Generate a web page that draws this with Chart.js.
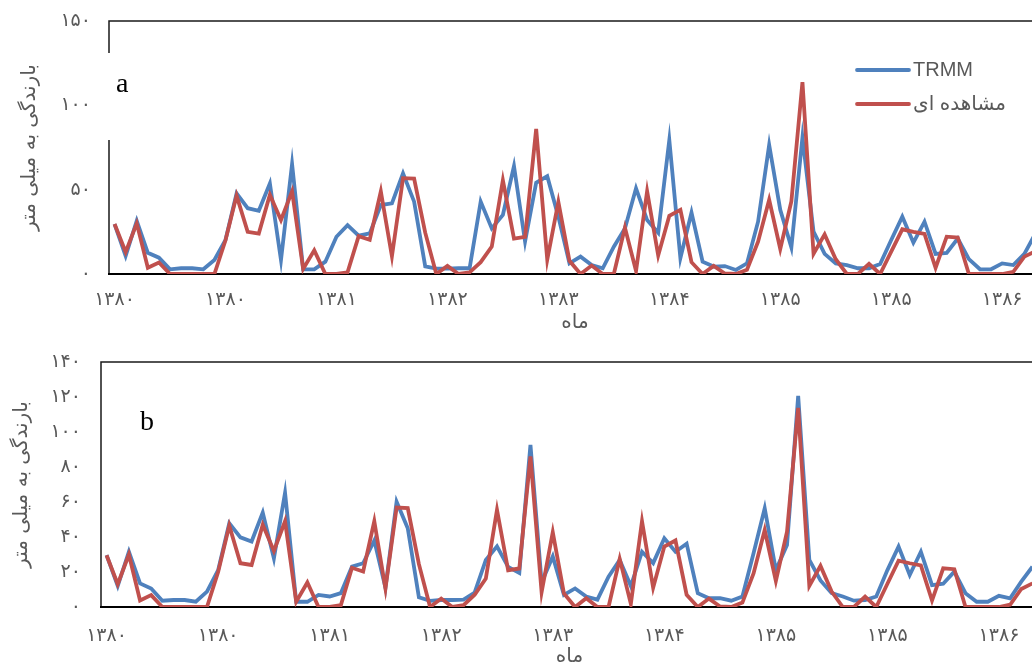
<!DOCTYPE html>
<html><head><meta charset="utf-8">
<script src="https://cdn.jsdelivr.net/npm/chart.js@4.4.1/dist/chart.umd.min.js"></script>
<style>
html,body{margin:0;padding:0;overflow:hidden;background:#fff;width:1032px;height:664px;}
#wa{position:absolute;left:0;top:0;width:1041px;height:340px;}
#wb{position:absolute;left:0;top:340px;width:1038px;height:340px;}
</style></head><body>
<div id="wa"><canvas id="ca" width="1041" height="340"></canvas></div>
<div id="wb"><canvas id="cb" width="1038" height="340"></canvas></div>
<script>
// ---- data ----
const years = ['۱۳۸۰','۱۳۸۱','۱۳۸۲','۱۳۸۳','۱۳۸۴','۱۳۸۵','۱۳۸۶'];
const monthsPerYear = 12;
const categories = [];
years.forEach(y => { for (let m = 0; m < monthsPerYear; m++) categories.push(y); });

const observed = [29.6,13,30,3.7,6.8,0,0,0,0,0,20,46.5,25,24,47,32,49,3,14,0,0,1,22.4,20.3,49,10.5,56.8,56.5,24.5,0,
  4.8,0,1,7,16.3,55.5,21,22,86,8.5,42.7,7.8,0,5,0,0,27.5,1.8,49,11,34.5,38,7,0,4.8,0.3,0,2.5,19.2,44,
  14.8,43,113.8,12,23.5,8.8,0,0,6,0,13.3,26.5,25,23.8,3.7,22.1,21.6,0,0,0,0,1.3,10.3,13.5];
const trmmA = [29.6,10.7,31.6,12.6,9.7,2.8,3.4,3.4,2.8,8.3,20.2,47.8,39,37.5,53.7,8.3,65.2,2.8,2.8,7.3,22.1,29,22.7,24.1,40.9,41.9,59.7,42.9,4.5,3.2,
  3.2,3.4,3.4,42.9,27,35,64,19.2,54.1,58,34,6.3,10.3,5.3,3.4,16.2,27,50.8,32,24.5,79.4,9.5,36.4,7.3,4.4,4.7,2.4,6.3,31,76.5,
  38,15.8,81,25.1,11.9,6.3,5.3,3.4,3.4,5.9,20.2,34,18.6,31,11.9,12.5,21,8.8,2.8,2.8,6.3,5.3,11.9,24];
const trmmB = [29.7,12,31.6,13.5,10.6,3.6,4,4,3,8.8,21.1,47.8,39.8,37.4,53.9,27.8,65.3,3,3,6.9,6,7.9,23.1,25,38,11,60.2,45,5.5,3.5,
  4,4,4.2,8.3,26.9,34.7,22.9,19.5,92.6,14,28.9,6.9,10.6,6,4.2,17.3,26.9,12,31.6,25.1,39.2,31.6,36.2,7.9,5,5,3.6,6,30.7,56.4,
  21.1,35.4,120.6,26.9,15.2,7.9,6,3.6,4,6,21.1,34.5,18.3,31.6,12.5,13.3,20.2,7.9,3,3,6.4,5,14.5,23];
const yTicksA = ['۰','۵۰','۱۰۰','۱۵۰'];
const yTicksB = ['۰','۲۰','۴۰','۶۰','۸۰','۱۰۰','۱۲۰','۱۴۰'];
const seriesNames = ['TRMM','مشاهده ای'];
const yTitle = 'بارندگی به میلی متر';
const xTitle = 'ماه';
const labelEvery = 10;

const BLUE = '#4F81BD', RED = '#C0504D', GRAY = '#595959';
const TICK_SPACING = '6px';

function framePlugin(gap) {
  return {
    id: 'frame',
    beforeDatasetsDraw(chart) {
      const {ctx, chartArea: a} = chart;
      ctx.save();
      ctx.strokeStyle = '#1a1a1a';
      ctx.lineWidth = 1.5;
      ctx.beginPath();
      ctx.moveTo(a.left, a.bottom); ctx.lineTo(a.left, a.top);
      ctx.lineTo(a.right, a.top); ctx.lineTo(a.right, a.bottom);
      ctx.stroke();
      ctx.strokeStyle = '#000';
      ctx.lineWidth = 2.2;
      ctx.beginPath();
      ctx.moveTo(a.left - 1, a.bottom); ctx.lineTo(a.right, a.bottom);
      ctx.stroke();
      if (gap) {
        ctx.fillStyle = '#fff';
        ctx.fillRect(a.left - 3, gap[0], 6, gap[1] - gap[0]);
      }
      ctx.restore();
    },
    afterDatasetsDraw(chart) {
      // tick labels are drawn after this (ticks.z = 1): widen their spacing
      chart.ctx.letterSpacing = TICK_SPACING;
    }
  };
}
function notePlugin(letter, lx, ly, legend) {
  return {
    id: 'note',
    afterDraw(chart) {
      const ctx = chart.ctx;
      ctx.letterSpacing = '0px';
      ctx.save();
      ctx.fillStyle = '#000';
      ctx.font = '28px "Liberation Serif"';
      ctx.textBaseline = 'alphabetic';
      ctx.textAlign = 'left';
      ctx.fillText(letter, lx, ly);
      if (legend) {
        const ds = chart.data.datasets;
        legend.rows.forEach((yy, i) => {
          ctx.strokeStyle = ds[i].borderColor;
          ctx.lineWidth = 3.8;
          ctx.lineCap = 'round';
          ctx.beginPath();
          ctx.moveTo(legend.x0, yy); ctx.lineTo(legend.x1, yy);
          ctx.stroke();
          ctx.fillStyle = GRAY;
          ctx.font = '20px "Liberation Sans", "DejaVu Sans"';
          ctx.textBaseline = 'middle';
          ctx.fillText(ds[i].label, legend.x1 + 4, yy);
        });
      }
      ctx.restore();
    }
  };
}

function makeChart(id, trmm, yMax, yStep, yTicks, cfg) {
  return new Chart(document.getElementById(id), {
    type: 'line',
    data: {
      labels: categories,
      datasets: [
        {label: seriesNames[0], data: trmm, borderColor: BLUE, backgroundColor: BLUE, borderWidth: 3.8, pointRadius: 0, tension: 0, order: 2},
        {label: seriesNames[1], data: observed, borderColor: RED, backgroundColor: RED, borderWidth: 3.8, pointRadius: 0, tension: 0, order: 1}
      ]
    },
    options: {
      responsive: false,
      animation: false,
      devicePixelRatio: 1,
      layout: {padding: {left: 0, top: cfg.top, right: 0, bottom: 0}},
      plugins: {legend: {display: false}, tooltip: {enabled: false}},
      scales: {
        x: {
          type: 'category',
          offset: true,
          grid: {display: false, drawTicks: false},
          border: {display: false},
          ticks: {
            z: 1,
            autoSkip: false, maxRotation: 0, minRotation: 0,
            padding: cfg.xPad, color: GRAY,
            font: {family: '"DejaVu Sans"', size: 19},
            callback: (v, i) => (i % labelEvery === 0 ? categories[i] : null)
          },
          title: {display: true, text: xTitle, color: GRAY, font: {family: '"DejaVu Sans"', size: 20}, padding: {top: 0, bottom: cfg.xTitlePad}},
          afterFit: s => { s.height = cfg.xH; s.paddingLeft = 0; s.paddingRight = 0; }
        },
        y: {
          min: 0, max: yMax,
          grid: {display: false, drawTicks: false},
          border: {display: false},
          ticks: {
            z: 1,
            stepSize: yStep, padding: cfg.yPad, color: GRAY,
            font: {family: '"DejaVu Sans"', size: 19},
            callback: (v, i) => yTicks[i]
          },
          title: {display: true, text: yTitle, color: GRAY, font: {family: '"DejaVu Sans"', size: 20}, padding: {top: cfg.yTitlePad, bottom: 0}},
          afterFit: s => { s.width = cfg.left; s.paddingTop = 0; s.paddingBottom = 0; }
        }
      }
    },
    plugins: cfg.plugins
  });
}

makeChart('ca', trmmA, 150, 50, yTicksA, {
  top: 21, left: 109, xH: 66, xPad: 15, xTitlePad: 5, yPad: 18, yTitlePad: 18,
  plugins: [framePlugin([53, 140]), notePlugin('a', 116, 92, {x0: 857, x1: 909, rows: [70, 104]})]
});
makeChart('cb', trmmB, 140, 20, yTicksB, {
  top: 22, left: 101, xH: 73, xPad: 18, xTitlePad: 11, yPad: 20, yTitlePad: 10,
  plugins: [framePlugin(null), notePlugin('b', 140, 90, null)]
});
</script>
</body></html>
